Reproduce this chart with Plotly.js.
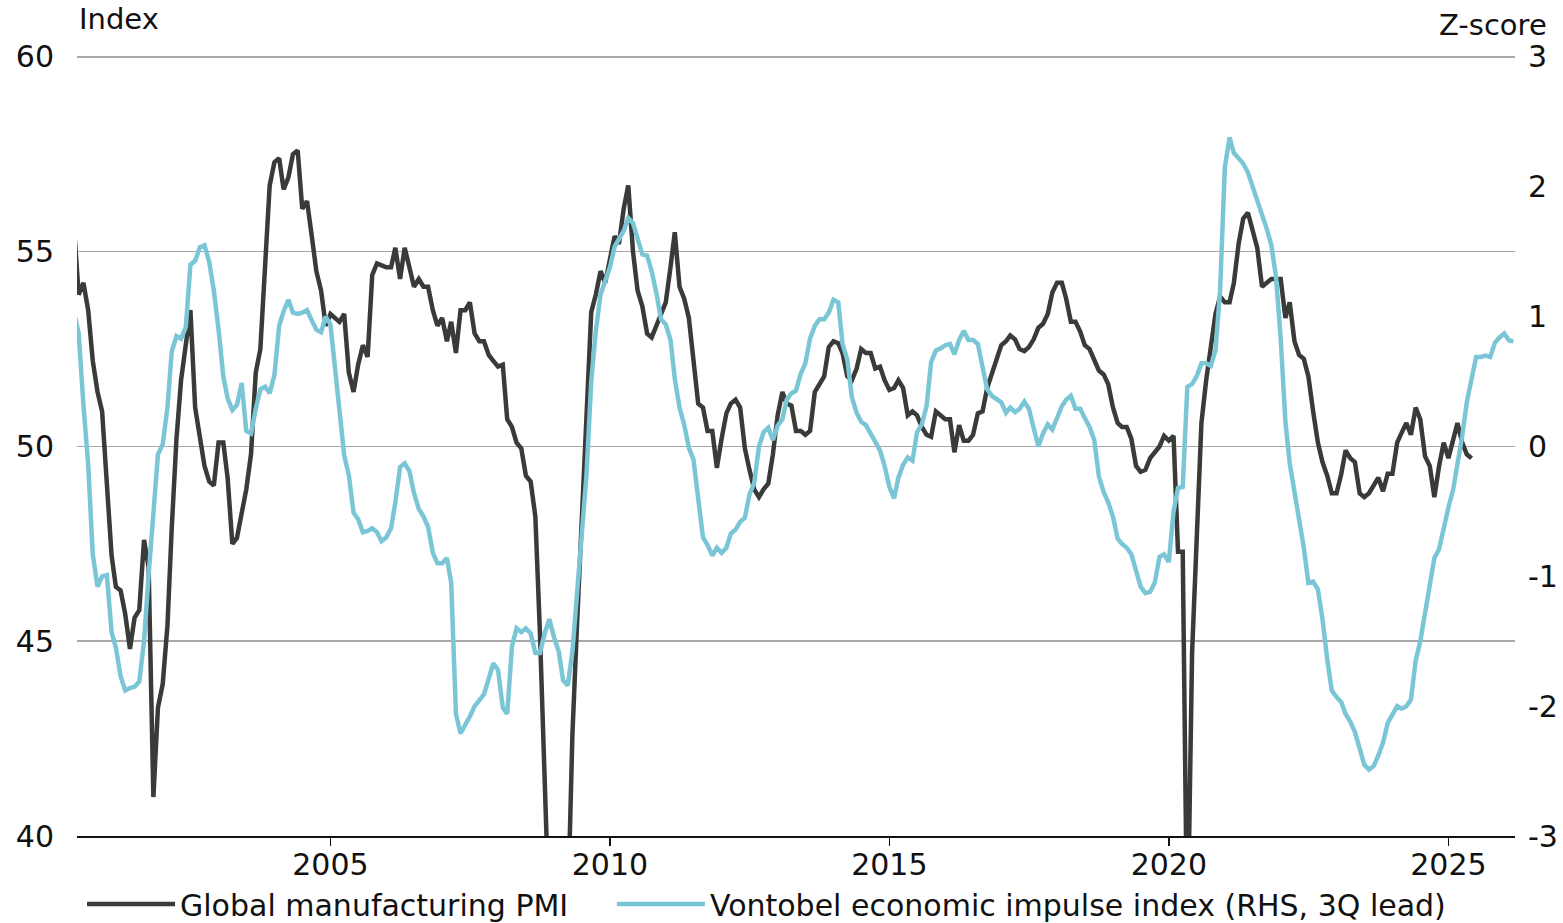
<!DOCTYPE html>
<html>
<head>
<meta charset="utf-8">
<script src="https://cdn.plot.ly/plotly-3.0.1.min.js"></script>
<style>
html, body { margin: 0; padding: 0; background: #ffffff; }
#chart { width: 1563px; height: 923px; }
#chart .legend .scrollbox { clip-path: none !important; }
#chart .legend .scrollbar { display: none; }
</style>
</head>
<body>
<div id="chart"></div>
<script>
// Monthly observation dates
const months = [
'2000-06','2000-07','2000-08','2000-09','2000-10','2000-11','2000-12',
'2001-01','2001-02','2001-03','2001-04','2001-05','2001-06','2001-07','2001-08','2001-09','2001-10','2001-11','2001-12',
'2002-01','2002-02','2002-03','2002-04','2002-05','2002-06','2002-07','2002-08','2002-09','2002-10','2002-11','2002-12',
'2003-01','2003-02','2003-03','2003-04','2003-05','2003-06','2003-07','2003-08','2003-09','2003-10','2003-11','2003-12',
'2004-01','2004-02','2004-03','2004-04','2004-05','2004-06','2004-07','2004-08','2004-09','2004-10','2004-11','2004-12',
'2005-01','2005-02','2005-03','2005-04','2005-05','2005-06','2005-07','2005-08','2005-09','2005-10','2005-11','2005-12',
'2006-01','2006-02','2006-03','2006-04','2006-05','2006-06','2006-07','2006-08','2006-09','2006-10','2006-11','2006-12',
'2007-01','2007-02','2007-03','2007-04','2007-05','2007-06','2007-07','2007-08','2007-09','2007-10','2007-11','2007-12',
'2008-01','2008-02','2008-03','2008-04','2008-05','2008-06','2008-07','2008-08','2008-09','2008-10','2008-11','2008-12',
'2009-01','2009-02','2009-03','2009-04','2009-05','2009-06','2009-07','2009-08','2009-09','2009-10','2009-11','2009-12',
'2010-01','2010-02','2010-03','2010-04','2010-05','2010-06','2010-07','2010-08','2010-09','2010-10','2010-11','2010-12',
'2011-01','2011-02','2011-03','2011-04','2011-05','2011-06','2011-07','2011-08','2011-09','2011-10','2011-11','2011-12',
'2012-01','2012-02','2012-03','2012-04','2012-05','2012-06','2012-07','2012-08','2012-09','2012-10','2012-11','2012-12',
'2013-01','2013-02','2013-03','2013-04','2013-05','2013-06','2013-07','2013-08','2013-09','2013-10','2013-11','2013-12',
'2014-01','2014-02','2014-03','2014-04','2014-05','2014-06','2014-07','2014-08','2014-09','2014-10','2014-11','2014-12',
'2015-01','2015-02','2015-03','2015-04','2015-05','2015-06','2015-07','2015-08','2015-09','2015-10','2015-11','2015-12',
'2016-01','2016-02','2016-03','2016-04','2016-05','2016-06','2016-07','2016-08','2016-09','2016-10','2016-11','2016-12',
'2017-01','2017-02','2017-03','2017-04','2017-05','2017-06','2017-07','2017-08','2017-09','2017-10','2017-11','2017-12',
'2018-01','2018-02','2018-03','2018-04','2018-05','2018-06','2018-07','2018-08','2018-09','2018-10','2018-11','2018-12',
'2019-01','2019-02','2019-03','2019-04','2019-05','2019-06','2019-07','2019-08','2019-09','2019-10','2019-11','2019-12',
'2020-01','2020-02','2020-03','2020-04','2020-05','2020-06','2020-07','2020-08','2020-09','2020-10','2020-11','2020-12',
'2021-01','2021-02','2021-03','2021-04','2021-05','2021-06','2021-07','2021-08','2021-09','2021-10','2021-11','2021-12',
'2022-01','2022-02','2022-03','2022-04','2022-05','2022-06','2022-07','2022-08','2022-09','2022-10','2022-11','2022-12',
'2023-01','2023-02','2023-03','2023-04','2023-05','2023-06','2023-07','2023-08','2023-09','2023-10','2023-11','2023-12',
'2024-01','2024-02','2024-03','2024-04','2024-05','2024-06','2024-07','2024-08','2024-09','2024-10','2024-11','2024-12',
'2025-01','2025-02','2025-03','2025-04','2025-05','2025-06','2025-07','2025-08','2025-09','2025-10','2025-11','2025-12',
'2026-01','2026-02','2026-03'
];

// Global manufacturing PMI (left axis, index) - Jun 2000 .. Jun 2025
const pmi = [
55.6, 53.9, 54.2, 53.5, 52.2, 51.4, 50.9,
48.9, 47.2, 46.4, 46.3, 45.7, 44.8, 45.6, 45.8, 47.6, 46.9, 41.0, 43.3,
43.9, 45.4, 47.9, 50.2, 51.7, 52.7, 53.5, 51.0, 50.2, 49.5, 49.1, 49.0,
50.1, 50.1, 49.2, 47.5, 47.65, 48.3, 48.9, 49.8, 51.9, 52.5, 54.7, 56.7,
57.3, 57.4, 56.6, 56.9, 57.5, 57.6, 56.1, 56.3, 55.4, 54.5, 54.0, 53.1,
53.4, 53.3, 53.2, 53.4, 51.9, 51.4, 52.1, 52.6, 52.3, 54.4, 54.7, 54.65,
54.6, 54.6, 55.1, 54.3, 55.1, 54.6, 54.1, 54.3, 54.1, 54.1, 53.5, 53.1,
53.3, 52.7, 53.2, 52.4, 53.5, 53.5, 53.7, 52.9, 52.7, 52.7, 52.35, 52.2,
52.05, 52.1, 50.7, 50.5, 50.1, 49.95, 49.25, 49.1, 48.2, 45.2, 40.3, 35.5,
34.0, 34.5, 35.5, 38.0, 42.6, 45.5, 47.9, 50.8, 53.45, 53.9, 54.5, 54.2,
54.8, 55.4, 55.2, 56.1, 56.7, 55.0, 54.0, 53.6, 52.9, 52.8, 53.1, 53.4,
53.7, 54.6, 55.5, 54.1, 53.8, 53.3, 52.2, 51.1, 51.0, 50.4, 50.4, 49.45,
50.2, 50.85, 51.1, 51.2, 51.0, 49.95, 49.4, 48.9, 48.7, 48.9, 49.05, 49.8,
50.8, 51.4, 51.1, 51.05, 50.4, 50.4, 50.3, 50.4, 51.4, 51.6, 51.8, 52.55,
52.7, 52.65, 52.4, 51.8, 51.7, 52.0, 52.5, 52.4, 52.4, 52.0, 52.05, 51.7,
51.45, 51.5, 51.7, 51.5, 50.8, 50.9, 50.8, 50.5, 50.3, 50.25, 50.9, 50.8,
50.7, 50.7, 49.85, 50.55, 50.15, 50.15, 50.3, 50.85, 50.9, 51.5, 51.9, 52.2,
52.6, 52.7, 52.85, 52.75, 52.5, 52.45, 52.55, 52.75, 53.05, 53.15, 53.4, 53.95,
54.2, 54.2, 53.8, 53.2, 53.2, 52.95, 52.6, 52.5, 52.25, 51.95, 51.85, 51.6,
51.0, 50.6, 50.5, 50.5, 50.2, 49.5, 49.35, 49.4, 49.7, 49.85, 50.0, 50.27,
50.15, 50.27, 47.3, 47.3, 37.0, 44.7, 47.7, 50.6, 51.7, 52.6, 53.4, 53.85,
53.7, 53.7, 54.2, 55.2, 55.85, 56.0, 55.55, 55.1, 54.1, 54.2, 54.3, 54.3,
54.3, 53.3, 53.7, 52.7, 52.35, 52.25, 51.8, 50.9, 50.1, 49.6, 49.25, 48.8,
48.8, 49.3, 49.9, 49.7, 49.6, 48.8, 48.7, 48.8, 49.0, 49.2, 48.85, 49.3,
49.3, 50.1, 50.35, 50.6, 50.3, 51.0, 50.7, 49.75, 49.5, 48.7, 49.5, 50.1,
49.7, 50.2, 50.6, 50.1, 49.8, 49.7
];

// Vontobel economic impulse index (right axis, z-score, shifted 3Q) - Jun 2000 .. Mar 2026
const impulse = [
1.03, 0.87, 0.32, -0.14, -0.83, -1.08, -1.0,
-0.99, -1.43, -1.55, -1.77, -1.88, -1.86, -1.85, -1.81, -1.50, -0.99, -0.48, -0.06,
0.015, 0.30, 0.73, 0.85, 0.83, 0.92, 1.40, 1.43, 1.535, 1.55, 1.42, 1.20,
0.90, 0.54, 0.37, 0.28, 0.32, 0.49, 0.12, 0.10, 0.29, 0.44, 0.46, 0.41,
0.55, 0.93, 1.04, 1.13, 1.03, 1.02, 1.03, 1.05, 0.97, 0.90, 0.88, 1.0,
0.94, 0.58, 0.21, -0.07, -0.22, -0.51, -0.56, -0.66, -0.65, -0.63, -0.66, -0.73,
-0.70, -0.63, -0.43, -0.16, -0.13, -0.19, -0.36, -0.48, -0.54, -0.62, -0.82, -0.90,
-0.90, -0.86, -1.05, -2.06, -2.21, -2.15, -2.08, -2.0, -1.96, -1.91, -1.79, -1.67,
-1.72, -2.01, -2.06, -1.54, -1.40, -1.43, -1.40, -1.44, -1.59, -1.59, -1.44, -1.33,
-1.47, -1.58, -1.80, -1.84, -1.58, -1.13, -0.63, -0.22, 0.50, 0.89, 1.17, 1.27,
1.38, 1.54, 1.59, 1.66, 1.76, 1.72, 1.60, 1.48, 1.47, 1.35, 1.18, 0.98,
0.94, 0.82, 0.52, 0.30, 0.17, -0.01, -0.10, -0.40, -0.70, -0.76, -0.84, -0.78,
-0.82, -0.78, -0.67, -0.64, -0.58, -0.55, -0.37, -0.28, 0.0, 0.11, 0.145, 0.05,
0.16, 0.21, 0.36, 0.41, 0.43, 0.56, 0.64, 0.83, 0.93, 0.98, 0.98, 1.03,
1.13, 1.11, 0.79, 0.67, 0.38, 0.26, 0.19, 0.165, 0.10, 0.03, -0.03, -0.15,
-0.31, -0.40, -0.24, -0.14, -0.085, -0.11, 0.11, 0.17, 0.31, 0.65, 0.74, 0.755,
0.78, 0.79, 0.71, 0.82, 0.89, 0.82, 0.82, 0.79, 0.61, 0.44, 0.39, 0.37,
0.34, 0.26, 0.30, 0.265, 0.29, 0.345, 0.29, 0.14, 0.0, 0.10, 0.17, 0.13,
0.22, 0.31, 0.36, 0.39, 0.29, 0.29, 0.22, 0.15, 0.05, -0.23, -0.35, -0.43,
-0.54, -0.71, -0.75, -0.78, -0.83, -0.95, -1.08, -1.13, -1.12, -1.05, -0.85, -0.83,
-0.89, -0.50, -0.32, -0.31, 0.46, 0.48, 0.54, 0.64, 0.64, 0.62, 0.74, 1.2,
2.15, 2.38, 2.26, 2.22, 2.18, 2.11, 2.01, 1.9, 1.78, 1.68, 1.55, 1.31,
0.83, 0.19, -0.13, -0.36, -0.53, -0.78, -1.05, -1.04, -1.1, -1.33, -1.64, -1.88,
-1.93, -1.97, -2.06, -2.12, -2.2, -2.34, -2.45, -2.49, -2.46, -2.38, -2.28, -2.13,
-2.07, -2.0, -2.02, -2.0, -1.95, -1.65, -1.5, -1.29, -1.07, -0.86, -0.79, -0.62,
-0.47, -0.33, -0.14, 0.08, 0.34, 0.52, 0.69, 0.69, 0.70, 0.69, 0.80, 0.84,
0.87, 0.816, 0.81
];

const seriesNames = ['Global manufacturing PMI', 'Vontobel economic impulse index (RHS, 3Q lead)'];
const xTickLabels = ['2005', '2010', '2015', '2020', '2025'];
const xTickDates = ['2005-01-01', '2010-01-01', '2015-01-01', '2020-01-01', '2025-01-01'];
const leftTicks = [40, 45, 50, 55, 60];
const rightTicks = [-3, -2, -1, 0, 1, 2, 3];
const leftTitle = 'Index';
const rightTitle = 'Z-score';

const FONT = 'DejaVu Sans, Liberation Sans, Arial, sans-serif';
const DARK = '#393b38';
const BLUE = '#7bc6d6';
const TXT = '#111111';

const traces = [
  {
    x: months, y: pmi, name: seriesNames[0], type: 'scatter', mode: 'lines',
    line: { color: DARK, width: 4.5 }, yaxis: 'y', legend: 'legend', hoverinfo: 'x+y'
  },
  {
    x: months, y: impulse, name: seriesNames[1], type: 'scatter', mode: 'lines',
    line: { color: BLUE, width: 4.5 }, yaxis: 'y2', legend: 'legend2', hoverinfo: 'x+y'
  }
];

const layout = {
  width: 1563, height: 923,
  margin: { l: 77, r: 48, t: 55, b: 87, pad: 0, autoexpand: false },
  paper_bgcolor: '#ffffff', plot_bgcolor: '#ffffff',
  font: { family: FONT, size: 30, color: TXT },
  showlegend: true,
  xaxis: {
    type: 'date',
    range: ['2000-06-20', '2026-03-12'],
    tickvals: xTickDates, ticktext: xTickLabels,
    ticks: 'outside', ticklen: 8, tickwidth: 1.5, tickcolor: TXT,
    showline: true, linecolor: TXT, linewidth: 1.5,
    showgrid: false, zeroline: false,
    tickfont: { family: FONT, size: 30, color: TXT },
    ticklabelstandoff: -7
  },
  yaxis: {
    range: [40, 60.05], tickvals: leftTicks, ticktext: leftTicks.map(String),
    ticks: '', showline: false, zeroline: false,
    showgrid: true, gridcolor: '#a8a8a8', gridwidth: 1.5,
    tickfont: { family: FONT, size: 30, color: TXT },
    ticklabelstandoff: 22
  },
  yaxis2: {
    range: [-3, 3.015], tickvals: rightTicks, ticktext: rightTicks.map(String),
    overlaying: 'y', side: 'right', anchor: 'x',
    ticks: '', showline: false, zeroline: false, showgrid: false,
    tickfont: { family: FONT, size: 30, color: TXT },
    ticklabelstandoff: 12
  },
  legend: {
    x: 0.0035, xanchor: 'left', y: -0.0871, yanchor: 'middle',
    orientation: 'h', bgcolor: 'rgba(0,0,0,0)', borderwidth: 0,
    itemwidth: 88, font: { family: FONT, size: 30, color: TXT }
  },
  legend2: {
    x: 0.372, xanchor: 'left', y: -0.0871, yanchor: 'middle',
    orientation: 'h', bgcolor: 'rgba(0,0,0,0)', borderwidth: 0,
    itemwidth: 88, font: { family: FONT, size: 30, color: TXT }
  },
  annotations: [
    {
      text: leftTitle, xref: 'paper', yref: 'paper', x: 0, y: 1.0461,
      xanchor: 'left', yanchor: 'middle', showarrow: false,
      font: { family: FONT, size: 29, color: TXT }
    },
    {
      text: rightTitle, xref: 'paper', yref: 'paper', x: 1.0235, y: 1.038,
      xanchor: 'right', yanchor: 'middle', showarrow: false,
      font: { family: FONT, size: 29, color: TXT }
    }
  ]
};

Plotly.newPlot('chart', traces, layout, { displayModeBar: false, staticPlot: true });
</script>
</body>
</html>
